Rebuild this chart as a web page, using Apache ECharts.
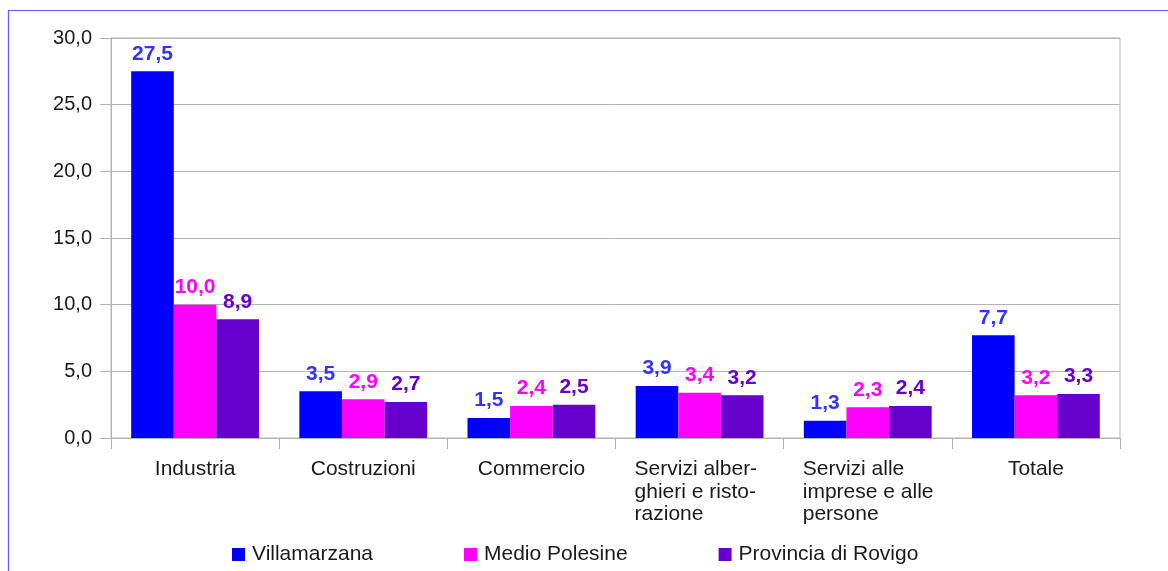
<!DOCTYPE html>
<html>
<head>
<meta charset="utf-8">
<script src="https://cdn.jsdelivr.net/npm/echarts@6/dist/echarts.min.js"></script>
<style>
html,body{margin:0;padding:0;background:#fff;}
#chart{width:1168px;height:571px;}
</style>
</head>
<body>
<div id="chart"></div>
<script>
const categories = ['Industria', 'Costruzioni', 'Commercio', 'Servizi alber-\nghieri e risto-\nrazione', 'Servizi alle\nimprese e alle\npersone', 'Totale'];
const seriesNames = ['Villamarzana', 'Medio Polesine', 'Provincia di Rovigo'];
const villamarzana = [27.5, 3.5, 1.5, 3.9, 1.3, 7.7];
const medioPolesine = [10.0, 2.9, 2.4, 3.4, 2.3, 3.2];
const provinciaRovigo = [8.9, 2.7, 2.5, 3.2, 2.4, 3.3];
const barColors = ['#0000ff', '#ff00ff', '#6600cc'];
const labelColors = ['#3333ff', '#ff00ff', '#6600cc'];

const fmt = v => v.toFixed(1).replace('.', ',');
const FONT = '"Liberation Sans", Arial, sans-serif';

const chart = echarts.init(document.getElementById('chart'), null, {renderer: 'canvas'});
const data = [villamarzana, medioPolesine, provinciaRovigo];

chart.setOption({
  animation: false,
  backgroundColor: '#ffffff',
  textStyle: {fontFamily: FONT},
  graphic: [{
    type: 'rect',
    shape: {x: 8.5, y: 10.5, width: 1400, height: 800},
    style: {fill: 'none', stroke: '#5c5cff', lineWidth: 1.2},
    silent: true,
    z: -10
  }],
  grid: {
    left: 111, right: 48, top: 38, bottom: 133,
    show: true, borderColor: '#b3b3b3', borderWidth: 1,
    containLabel: false
  },
  legend: {
    data: seriesNames,
    left: 227,
    top: 539,
    icon: 'rect',
    itemWidth: 13,
    itemHeight: 13,
    itemGap: 91,
    textStyle: {fontSize: 21, color: '#1a1a1a', fontFamily: FONT, padding: [0, 0, 0, 2]}
  },
  xAxis: {
    type: 'category',
    data: categories,
    axisLine: {show: true, lineStyle: {color: '#b3b3b3', width: 1}},
    axisTick: {show: true, length: 11, lineStyle: {color: '#b3b3b3'}},
    axisLabel: {
      interval: 0,
      margin: 20,
      color: '#1a1a1a',
      fontSize: 21,
      fontFamily: FONT,
      lineHeight: 22.5,
      formatter: function (v) {
        const lines = v.split('\n');
        if (lines.length === 1) return v;
        return lines.map(l => '{l|' + l + '}').join('\n');
      },
      rich: {
        l: {width: 130, align: 'left', fontSize: 21, lineHeight: 22.5, color: '#1a1a1a', fontFamily: FONT}
      }
    },
    splitLine: {show: false}
  },
  yAxis: {
    type: 'value',
    min: 0, max: 30, interval: 5,
    axisLine: {show: true, lineStyle: {color: '#b3b3b3', width: 1}},
    axisTick: {show: true, length: 11, lineStyle: {color: '#b3b3b3'}},
    axisLabel: {
      margin: 19,
      color: '#1a1a1a',
      fontSize: 20,
      fontFamily: FONT,
      formatter: v => fmt(v)
    },
    splitLine: {show: true, lineStyle: {color: '#b3b3b3', width: 1}}
  },
  series: seriesNames.map((name, i) => ({
    name: name,
    type: 'bar',
    data: data[i],
    barGap: '0%',
    barCategoryGap: '24%',
    itemStyle: {color: barColors[i]},
    label: {
      show: true,
      position: 'top',
      distance: 7,
      color: labelColors[i],
      fontWeight: 'bold',
      fontSize: 21,
      fontFamily: FONT,
      formatter: p => fmt(p.value)
    }
  }))
});
</script>
</body>
</html>
